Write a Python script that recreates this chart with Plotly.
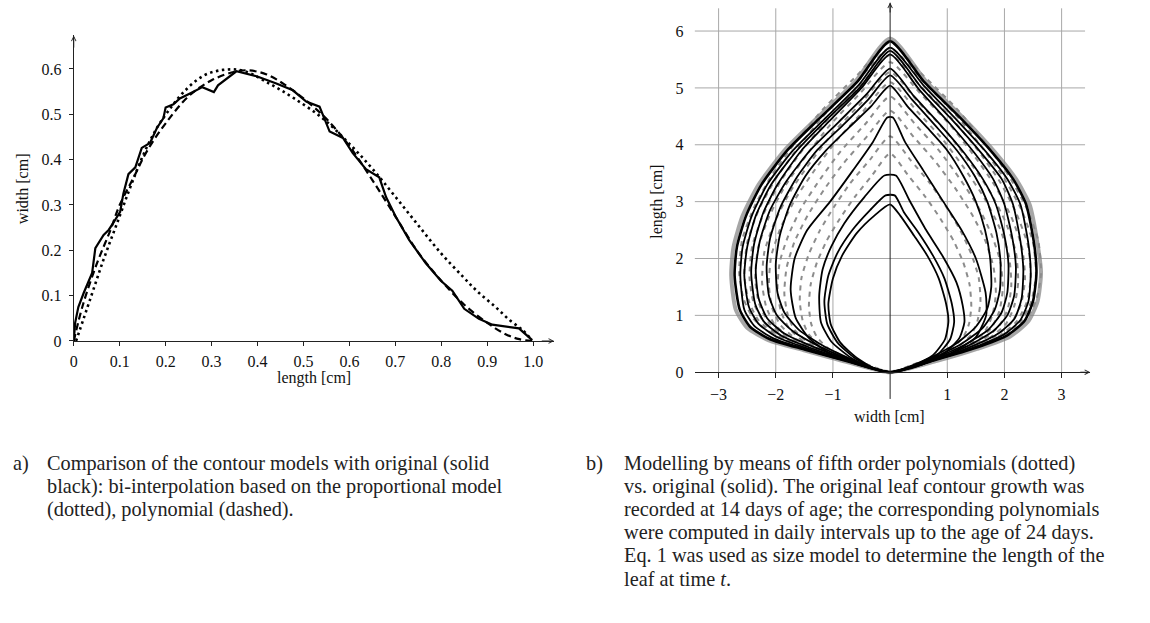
import plotly.graph_objects as go

W, H = 1150, 623

# ---------------- panel a) data ----------------
orig_len = [0, 0.003, 0.01, 0.022, 0.04, 0.047, 0.065, 0.076, 0.085, 0.101, 0.108, 0.119, 0.134, 0.148,
            0.166, 0.181, 0.195, 0.200, 0.217, 0.231, 0.253, 0.280, 0.305, 0.314, 0.354, 0.398, 0.441,
            0.477, 0.506, 0.535, 0.557, 0.586, 0.607, 0.622, 0.636, 0.665, 0.680, 0.701, 0.730, 0.766,
            0.799, 0.824, 0.850, 0.882, 0.911, 0.969, 0.998]
orig_wid = [0.0, 0.04, 0.075, 0.107, 0.15, 0.205, 0.234, 0.245, 0.259, 0.285, 0.325, 0.368, 0.383, 0.426,
            0.437, 0.470, 0.491, 0.515, 0.522, 0.535, 0.546, 0.560, 0.549, 0.564, 0.595, 0.584, 0.568,
            0.553, 0.528, 0.517, 0.462, 0.448, 0.415, 0.397, 0.379, 0.361, 0.317, 0.274, 0.223, 0.172,
            0.133, 0.111, 0.071, 0.049, 0.036, 0.028, 0.002]

poly_len = [0, 0.02, 0.05, 0.08, 0.1, 0.13, 0.16, 0.2, 0.25, 0.3, 0.35, 0.38, 0.42, 0.46, 0.5, 0.55,
            0.6, 0.65, 0.7, 0.75, 0.8, 0.85, 0.9, 0.94, 0.97, 1.0]
poly_wid = [0, 0.08, 0.17, 0.245, 0.30, 0.36, 0.42, 0.48, 0.54, 0.575, 0.594, 0.597, 0.588, 0.565,
            0.535, 0.49, 0.43, 0.355, 0.275, 0.195, 0.133, 0.08, 0.04, 0.015, 0.004, 0]

prop_len = [0.005, 0.036, 0.065, 0.094, 0.123, 0.152, 0.181, 0.21, 0.239, 0.282, 0.325, 0.369, 0.427,
            0.48, 0.542, 0.6, 0.65, 0.701, 0.75, 0.799, 0.846, 0.88, 0.918, 0.95, 0.976, 0.994]
prop_wid = [0.0, 0.093, 0.18, 0.259, 0.339, 0.412, 0.47, 0.513, 0.549, 0.585, 0.598, 0.596, 0.567,
            0.535, 0.491, 0.435, 0.38, 0.317, 0.255, 0.194, 0.143, 0.108, 0.075, 0.045, 0.025, 0.006]

a_xticks = [0, 0.1, 0.2, 0.3, 0.4, 0.5, 0.6, 0.7, 0.8, 0.9, 1.0]
a_xticktext = ["0", "0.1", "0.2", "0.3", "0.4", "0.5", "0.6", "0.7", "0.8", "0.9", "1.0"]
a_yticks = [0, 0.1, 0.2, 0.3, 0.4, 0.5, 0.6]
a_yticktext = ["0", "0.1", "0.2", "0.3", "0.4", "0.5", "0.6"]

# ---------------- panel b) data ----------------
b_xticks = [-3, -2, -1, 1, 2, 3]
b_xticktext = ["\u22123", "\u22122", "\u22121", "1", "2", "3"]
b_yticks = [0, 1, 2, 3, 4, 5, 6]
b_yticktext = ["0", "1", "2", "3", "4", "5", "6"]
b_grid_x = [-3, -2, -1, 1, 2, 3]
b_grid_y = [1, 2, 3, 4, 5, 6]

# thick grey outermost contour (width, length)
outer_gray = [[0, 0], [-0.72, 0.17], [-1.52, 0.39], [-2.12, 0.56], [-2.5, 0.78], [-2.7, 1.1], [-2.78, 1.7],
              [-2.74, 2.2], [-2.58, 2.75], [-2.3, 3.3], [-1.85, 3.9], [-1.3, 4.45], [-0.62, 5.1], [0, 5.87],
              [0.64, 5.1], [1.3, 4.45], [1.85, 3.85], [2.2, 3.4], [2.44, 2.95], [2.58, 2.25], [2.64, 1.75],
              [2.58, 1.25], [2.42, 0.9], [2.1, 0.63], [1.52, 0.41], [0.82, 0.2], [0, 0]]

# original (measured) contours, solid black: list of [width, length] points
black_contours = [
    [[0, 0], [-0.7, 0.18], [-1.5, 0.4], [-2.1, 0.58], [-2.45, 0.8], [-2.63, 1.1], [-2.72, 1.7], [-2.68, 2.2],
     [-2.52, 2.75], [-2.25, 3.3], [-1.8, 3.9], [-1.25, 4.45], [-0.58, 5.1], [0, 5.82], [0.6, 5.1], [1.25, 4.45],
     [1.8, 3.85], [2.15, 3.4], [2.38, 2.95], [2.52, 2.25], [2.56, 1.75], [2.5, 1.25], [2.35, 0.9], [2.05, 0.65],
     [1.5, 0.43], [0.8, 0.22], [0, 0]],
    [[0, 0], [-0.7, 0.18], [-1.5, 0.41], [-2.05, 0.6], [-2.38, 0.82], [-2.55, 1.1], [-2.62, 1.7], [-2.58, 2.2],
     [-2.42, 2.75], [-2.15, 3.3], [-1.7, 3.9], [-1.15, 4.45], [-0.55, 5.05], [0, 5.71], [0.58, 5.05],
     [1.18, 4.42], [1.7, 3.85], [2.05, 3.4], [2.28, 2.95], [2.42, 2.25], [2.46, 1.75], [2.42, 1.25],
     [2.28, 0.92], [2.0, 0.67], [1.48, 0.44], [0.8, 0.22], [0, 0]],
    [[0, 0], [-0.7, 0.19], [-1.45, 0.42], [-1.98, 0.62], [-2.3, 0.85], [-2.47, 1.15], [-2.55, 1.7], [-2.5, 2.2],
     [-2.35, 2.75], [-2.08, 3.3], [-1.63, 3.9], [-1.1, 4.45], [-0.52, 5.02], [0, 5.65], [0.55, 5.0],
     [1.1, 4.42], [1.6, 3.85], [1.95, 3.4], [2.15, 2.95], [2.28, 2.3], [2.33, 1.8], [2.3, 1.3], [2.18, 0.95],
     [1.92, 0.7], [1.42, 0.45], [0.78, 0.22], [0, 0]],
    [[0, 0], [-0.7, 0.2], [-1.4, 0.43], [-1.9, 0.64], [-2.2, 0.88], [-2.36, 1.2], [-2.43, 1.75], [-2.38, 2.25],
     [-2.22, 2.8], [-1.97, 3.3], [-1.55, 3.9], [-1.03, 4.45], [-0.5, 5.0], [0, 5.59], [0.5, 4.98], [1.02, 4.4],
     [1.48, 3.85], [1.8, 3.4], [2.0, 2.95], [2.14, 2.35], [2.2, 1.85], [2.17, 1.35], [2.05, 1.0], [1.8, 0.72],
     [1.35, 0.46], [0.75, 0.22], [0, 0]],
    [[0, 0], [-0.68, 0.2], [-1.35, 0.45], [-1.85, 0.68], [-2.15, 0.95], [-2.3, 1.3], [-2.35, 1.8], [-2.28, 2.3],
     [-2.1, 2.85], [-1.82, 3.35], [-1.4, 3.9], [-0.9, 4.4], [-0.42, 4.88], [0, 5.34], [0.42, 4.85],
     [0.88, 4.35], [1.3, 3.85], [1.62, 3.4], [1.85, 2.95], [2.0, 2.4], [2.07, 1.9], [2.05, 1.4], [1.95, 1.05],
     [1.72, 0.75], [1.3, 0.48], [0.72, 0.22], [0, 0]],
    [[0, 0], [-0.65, 0.2], [-1.25, 0.46], [-1.7, 0.72], [-1.98, 1.0], [-2.12, 1.35], [-2.16, 1.85],
     [-2.1, 2.35], [-1.92, 2.9], [-1.65, 3.4], [-1.28, 3.9], [-0.82, 4.35], [-0.38, 4.8], [0, 5.22],
     [0.38, 4.8], [0.78, 4.35], [1.17, 3.9], [1.48, 3.45], [1.7, 3.0], [1.86, 2.45], [1.93, 1.95],
     [1.92, 1.45], [1.83, 1.1], [1.62, 0.78], [1.25, 0.5], [0.7, 0.23], [0, 0]],
    [[0, 0], [-0.62, 0.2], [-1.18, 0.47], [-1.6, 0.75], [-1.85, 1.05], [-1.97, 1.4], [-2.0, 1.9], [-1.93, 2.4],
     [-1.75, 2.95], [-1.48, 3.45], [-1.12, 3.9], [-0.72, 4.3], [-0.33, 4.68], [0, 5.04], [0.3, 4.68],
     [0.65, 4.3], [1.0, 3.9], [1.28, 3.45], [1.5, 3.0], [1.66, 2.5], [1.75, 2.0], [1.77, 1.5], [1.7, 1.12],
     [1.5, 0.8], [1.15, 0.5], [0.65, 0.23], [0, 0]],
    [[0, 0], [-0.5, 0.12], [-1.0, 0.3], [-1.4, 0.58], [-1.65, 0.95], [-1.74, 1.45], [-1.67, 2.0], [-1.45, 2.5],
     [-1.05, 3.0], [-0.65, 3.55], [-0.3, 4.05], [-0.05, 4.48], [0.05, 4.48], [0.26, 4.05], [0.58, 3.55],
     [0.93, 3.0], [1.25, 2.5], [1.5, 2.0], [1.67, 1.4], [1.68, 1.0], [1.5, 0.62], [1.1, 0.35], [0.55, 0.14],
     [0, 0]],
    [[0, 0], [-0.35, 0.08], [-0.68, 0.25], [-1.03, 0.54], [-1.21, 0.88], [-1.24, 1.35], [-1.18, 1.81],
     [-1.03, 2.21], [-0.8, 2.62], [-0.45, 3.08], [-0.1, 3.46], [0.1, 3.46], [0.34, 3.02], [0.63, 2.5],
     [0.92, 2.04], [1.16, 1.58], [1.27, 1.17], [1.3, 0.88], [1.21, 0.6], [0.92, 0.31], [0.46, 0.1], [0, 0]],
    [[0, 0], [-0.3, 0.07], [-0.62, 0.25], [-0.92, 0.52], [-1.1, 0.85], [-1.15, 1.25], [-1.08, 1.7],
     [-0.92, 2.1], [-0.66, 2.5], [-0.35, 2.85], [-0.08, 3.11], [0.08, 3.11], [0.25, 2.8], [0.5, 2.45],
     [0.75, 2.05], [0.95, 1.65], [1.08, 1.2], [1.12, 0.88], [1.05, 0.58], [0.82, 0.3], [0.42, 0.1], [0, 0]],
    [[0, 0], [-0.28, 0.07], [-0.58, 0.25], [-0.87, 0.52], [-1.04, 0.85], [-1.08, 1.2], [-1.0, 1.65],
     [-0.84, 2.05], [-0.58, 2.45], [-0.28, 2.75], [0, 2.95], [0.18, 2.75], [0.42, 2.4], [0.65, 2.05],
     [0.85, 1.65], [0.98, 1.2], [1.02, 0.9], [0.96, 0.58], [0.75, 0.3], [0.38, 0.1], [0, 0]],
]

# fifth-order polynomial model contours (grey dashed): [lengths], [half widths]
poly_contours = [
    [[0, 0.135, 0.27, 0.42, 0.62, 0.85, 1.16, 1.54, 1.93, 2.31, 2.7, 3.08, 3.47, 3.85],
     [0, 0.40, 0.78, 1.08, 1.28, 1.38, 1.42, 1.39, 1.28, 1.11, 0.88, 0.62, 0.31, 0]],
    [[0, 0.145, 0.29, 0.46, 0.66, 0.91, 1.25, 1.66, 2.08, 2.49, 2.91, 3.32, 3.74, 4.15],
     [0, 0.44, 0.87, 1.2, 1.42, 1.53, 1.58, 1.55, 1.42, 1.23, 0.98, 0.70, 0.35, 0]],
    [[0, 0.16, 0.32, 0.51, 0.74, 1.01, 1.38, 1.84, 2.3, 2.76, 3.22, 3.68, 4.14, 4.6],
     [0, 0.52, 1.02, 1.41, 1.67, 1.79, 1.85, 1.81, 1.67, 1.44, 1.15, 0.81, 0.41, 0]],
    [[0, 0.17, 0.34, 0.53, 0.78, 1.07, 1.46, 1.94, 2.43, 2.91, 3.4, 3.88, 4.37, 4.85],
     [0, 0.55, 1.08, 1.5, 1.77, 1.91, 1.97, 1.93, 1.77, 1.54, 1.22, 0.87, 0.43, 0]],
    [[0, 0.18, 0.36, 0.56, 0.82, 1.12, 1.53, 2.04, 2.55, 3.06, 3.57, 4.08, 4.59, 5.1],
     [0, 0.59, 1.17, 1.61, 1.91, 2.06, 2.12, 2.08, 1.91, 1.65, 1.31, 0.93, 0.47, 0]],
    [[0, 0.18, 0.37, 0.58, 0.84, 1.16, 1.58, 2.11, 2.64, 3.17, 3.7, 4.22, 4.75, 5.28],
     [0, 0.63, 1.23, 1.7, 2.02, 2.17, 2.24, 2.2, 2.02, 1.75, 1.39, 0.99, 0.49, 0]],
    [[0, 0.19, 0.38, 0.6, 0.87, 1.2, 1.64, 2.18, 2.73, 3.27, 3.82, 4.36, 4.91, 5.45],
     [0, 0.66, 1.3, 1.79, 2.12, 2.29, 2.36, 2.31, 2.12, 1.84, 1.46, 1.04, 0.52, 0]],
    [[0, 0.2, 0.39, 0.61, 0.89, 1.23, 1.67, 2.23, 2.79, 3.35, 3.91, 4.46, 5.02, 5.58],
     [0, 0.69, 1.35, 1.87, 2.21, 2.39, 2.46, 2.41, 2.21, 1.92, 1.53, 1.08, 0.54, 0]],
    [[0, 0.2, 0.4, 0.63, 0.91, 1.25, 1.71, 2.28, 2.85, 3.42, 3.99, 4.56, 5.13, 5.7],
     [0, 0.71, 1.4, 1.94, 2.3, 2.47, 2.55, 2.5, 2.3, 1.99, 1.58, 1.12, 0.56, 0]],
    [[0, 0.2, 0.41, 0.64, 0.93, 1.28, 1.74, 2.32, 2.9, 3.48, 4.06, 4.64, 5.22, 5.8],
     [0, 0.74, 1.45, 2.01, 2.38, 2.56, 2.64, 2.59, 2.38, 2.06, 1.64, 1.16, 0.58, 0]],
]

caption_a = ["Comparison of the contour models with original (solid",
             "black): bi-interpolation based on the proportional model",
             "(dotted), polynomial (dashed)."]
caption_b = ["Modelling by means of fifth order polynomials (dotted)",
             "vs. original (solid). The original leaf contour growth was",
             "recorded at 14 days of age; the corresponding polynomials",
             "were computed in daily intervals up to the age of 24 days.",
             "Eq. 1 was used as size model to determine the length of the",
             "leaf at time <i>t</i>."]

# ---------------- layout helpers ----------------
def fx(px):
    return px / W

def fy(py):
    return (H - py) / H

SERIF = "Liberation Serif"
AX = "#222222"
tickfont = dict(family=SERIF, size=16, color="#111111")

fig = go.Figure()

# panel a traces
fig.add_trace(go.Scatter(x=prop_len, y=prop_wid, mode="lines", xaxis="x", yaxis="y",
                         line=dict(color="black", width=2.6, dash="2.5px,3.5px", shape="spline")))
fig.add_trace(go.Scatter(x=poly_len, y=poly_wid, mode="lines", xaxis="x", yaxis="y",
                         line=dict(color="black", width=2.2, dash="7px,4px", shape="spline")))
fig.add_trace(go.Scatter(x=orig_len, y=orig_wid, mode="lines", xaxis="x", yaxis="y",
                         line=dict(color="black", width=2.2)))

# panel b traces
fig.add_trace(go.Scatter(x=[p[0] for p in outer_gray], y=[p[1] for p in outer_gray], mode="lines",
                         xaxis="x2", yaxis="y2",
                         line=dict(color="rgba(128,128,128,0.7)", width=4, shape="spline", smoothing=0.6)))
for ys, xs in poly_contours:
    xfull = [-v for v in xs] + xs[::-1][1:]
    yfull = ys + ys[::-1][1:]
    fig.add_trace(go.Scatter(x=xfull, y=yfull, mode="lines", xaxis="x2", yaxis="y2",
                             line=dict(color="#8c8c8c", width=2, dash="5px,5px", shape="spline",
                                       smoothing=0.6)))
for i, c in enumerate(black_contours):
    fig.add_trace(go.Scatter(x=[p[0] for p in c], y=[p[1] for p in c], mode="lines",
                             xaxis="x2", yaxis="y2",
                             line=dict(color="black", width=2.6 if i == 0 else 1.8, shape="spline",
                                       smoothing=0.6)))

# panel b grid and central vertical axis line as shapes
shapes = []
for gx in b_grid_x:
    shapes.append(dict(type="line", xref="x2", yref="y2", x0=gx, x1=gx, y0=0, y1=6.4,
                       line=dict(color="#a8a8a8", width=1), layer="below"))
for gy in b_grid_y:
    shapes.append(dict(type="line", xref="x2", yref="y2", x0=-3.42, x1=3.41, y0=gy, y1=gy,
                       line=dict(color="#a8a8a8", width=1), layer="below"))
shapes.append(dict(type="line", xref="x2", yref="y2", x0=0, x1=0, y0=-0.47, y1=6.5,
                   line=dict(color=AX, width=1), layer="above"))

a_xmax = (552 - 70) / 461.0
a_ymax = (346 - 36) / 460.0

fig.update_layout(
    width=W, height=H, margin=dict(l=0, r=0, t=0, b=0),
    paper_bgcolor="white", plot_bgcolor="white", showlegend=False,
    xaxis=dict(domain=[fx(70), fx(552)], range=[0, a_xmax], anchor="y", showline=True, linecolor=AX,
               linewidth=1, ticks="outside", ticklen=4, tickcolor=AX, tickvals=a_xticks,
               ticktext=a_xticktext, ticklabelstandoff=2, showgrid=False, zeroline=False,
               tickfont=tickfont),
    yaxis=dict(domain=[fy(346), fy(36)], range=[0, a_ymax], anchor="x", showline=True, linecolor=AX,
               linewidth=1, ticks="outside", ticklen=4, tickcolor=AX, tickvals=a_yticks,
               ticktext=a_yticktext, ticklabelstandoff=4, showgrid=False, zeroline=False,
               tickfont=tickfont),
    xaxis2=dict(domain=[fx(693), fx(1090)], range=[-3.42, 3.5], anchor="free", position=fy(377.7),
                showline=True, linecolor=AX, linewidth=1, ticks="outside", ticklen=5, tickcolor=AX,
                tickvals=b_xticks, ticktext=b_xticktext, ticklabelstandoff=3, showgrid=False,
                zeroline=False, tickfont=tickfont),
    yaxis2=dict(domain=[fy(404.8), fy(2.65)], range=[-0.47, 6.5], anchor="free", position=fx(693),
                showline=False, ticks="", tickvals=b_yticks,
                ticktext=b_yticktext, ticklabelstandoff=11, showgrid=False, zeroline=False,
                tickfont=tickfont),
    shapes=shapes,
)

ann = []
# axis arrows
arrow = dict(text="", showarrow=True, arrowhead=5, arrowsize=0.9, arrowwidth=1, arrowcolor=AX, standoff=0)
ann.append(dict(arrow, xref="x", yref="y", axref="x", ayref="y", x=a_xmax, y=0, ax=a_xmax - 0.03, ay=0))
ann.append(dict(arrow, xref="x", yref="y", axref="x", ayref="y", x=0, y=a_ymax, ax=0, ay=a_ymax - 0.03))
ann.append(dict(arrow, xref="x2", yref="y2", axref="x2", ayref="y2", x=3.5, y=0, ax=3.3, ay=0))
ann.append(dict(arrow, xref="x2", yref="y2", axref="x2", ayref="y2", x=0, y=6.5, ax=0, ay=6.3))

titlefont = dict(family=SERIF, size=16, color="#111111")
ann.append(dict(text="length [cm]", xref="paper", yref="paper", x=fx(311), y=fy(384), showarrow=False,
                font=titlefont, xanchor="center", yanchor="middle"))
ann.append(dict(text="width [cm]", xref="paper", yref="paper", x=fx(18), y=fy(191), showarrow=False,
                font=titlefont, textangle=-90, xanchor="center", yanchor="middle"))
ann.append(dict(text="width [cm]", xref="paper", yref="paper", x=fx(889), y=fy(423), showarrow=False,
                font=titlefont, xanchor="center", yanchor="middle"))
ann.append(dict(text="length [cm]", xref="paper", yref="paper", x=fx(655), y=fy(205), showarrow=False,
                font=titlefont, textangle=-90, xanchor="center", yanchor="middle"))

capfont = dict(family=SERIF, size=20.3, color="#222222")
line_y = [470, 493.4, 516.8, 540.2, 563.6, 587]
ann.append(dict(text="a)", xref="paper", yref="paper", x=fx(7), y=fy(line_y[0]), showarrow=False,
                font=capfont, xanchor="left", yanchor="middle"))
for i, t in enumerate(caption_a):
    ann.append(dict(text=t, xref="paper", yref="paper", x=fx(41), y=fy(line_y[i]), showarrow=False,
                    font=capfont, xanchor="left", yanchor="middle"))
ann.append(dict(text="b)", xref="paper", yref="paper", x=fx(582), y=fy(line_y[0]), showarrow=False,
                font=capfont, xanchor="left", yanchor="middle"))
for i, t in enumerate(caption_b):
    ann.append(dict(text=t, xref="paper", yref="paper", x=fx(620), y=fy(line_y[i]), showarrow=False,
                    font=capfont, xanchor="left", yanchor="middle"))

fig.update_layout(annotations=ann)
fig.write_html("out.html")
